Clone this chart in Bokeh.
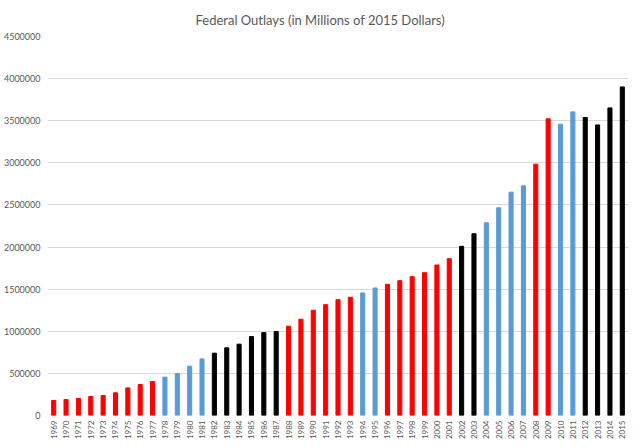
from bokeh.plotting import figure
from bokeh.models import FactorRange, FixedTicker, NumeralTickFormatter, ColumnDataSource, Range1d
from bokeh.embed import file_html
from bokeh.resources import INLINE
import math

years = [str(y) for y in range(1969, 2016)]
outlays = [178000, 190000, 202000, 225000, 237000, 269000, 328000, 368000, 403000,
           455000, 498000, 586000, 672000,
           740000, 803000, 847000, 937000, 984000, 996000,
           1060000, 1143000, 1250000, 1316000, 1375000, 1404000,
           1455000, 1514000,
           1558000, 1601000, 1648000, 1696000, 1787000, 1862000,
           2009000, 2158000,
           2288000, 2466000, 2652000, 2727000,
           2984000, 3522000,
           3459000, 3605000,
           3538000, 3450000, 3652000, 3901000]
RED, BLUE, BLACK = "#FF0000", "#5B9BD5", "#000000"
party = (["R"] * 9 + ["B"] * 4 + ["K"] * 6 + ["R"] * 6 + ["B"] * 2 + ["R"] * 6 +
         ["K"] * 2 + ["B"] * 4 + ["R"] * 2 + ["B"] * 2 + ["K"] * 4)
cmap = {"R": RED, "B": BLUE, "K": BLACK}
colors = [cmap[c] for c in party]
y_ticks = list(range(0, 4500001, 500000))

src = ColumnDataSource(dict(year=years, value=outlays, color=colors))

p = figure(frame_width=581, frame_height=379, x_range=FactorRange(*years, range_padding=0),
           y_range=Range1d(0, 4500000), output_backend="svg", toolbar_location=None,
           min_border_left=0, min_border_right=4, min_border_top=0, min_border_bottom=0)
p.vbar(x="year", top="value", width=0.33, color="color", source=src)

p.title.text = "Federal Outlays (in Millions of 2015 Dollars)"
p.title.align = "left"
p.title.offset = 148
p.title.standoff = 18
p.title.text_font = "Lato"
p.title.text_font_size = "13px"
p.title.text_font_style = "normal"
p.title.text_color = "#595959"

p.outline_line_color = None
p.xgrid.grid_line_color = None
p.ygrid.grid_line_color = "#D9D9D9"
p.ygrid.grid_line_width = 1

p.yaxis.ticker = FixedTicker(ticks=y_ticks)
p.yaxis.formatter = NumeralTickFormatter(format="0")
for ax in (p.xaxis, p.yaxis):
    ax.axis_line_color = None
    ax.major_tick_line_color = None
    ax.minor_tick_line_color = None
    ax.major_tick_out = 0
    ax.minor_tick_out = 0
    ax.major_tick_in = 0
    ax.minor_tick_in = 0
    ax.major_label_text_font = "Lato"
    ax.major_label_text_font_size = "8px"
    ax.major_label_text_color = "#595959"
p.yaxis.major_label_text_font_size = "9px"
p.yaxis.major_label_standoff = 7
p.xaxis.major_label_standoff = 5
p.xaxis.major_label_orientation = math.pi / 2
p.x_range.group_padding = 0

open("out.html", "w").write(file_html(p, INLINE))
